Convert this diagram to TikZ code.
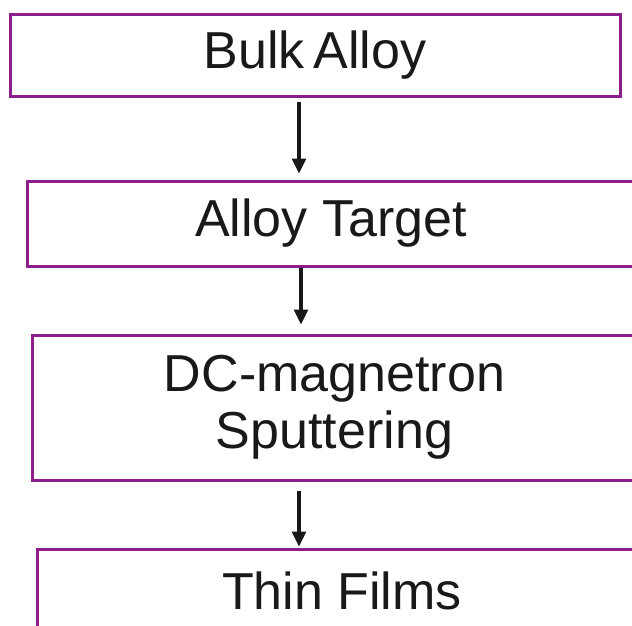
\documentclass[tikz,border=0pt]{standalone}
\usepackage{fontspec}
\setmainfont{Liberation Sans}
\usepackage{tikz}
\definecolor{boxpurple}{RGB}{140,30,140}
\definecolor{inkgray}{RGB}{25,25,25}
\usetikzlibrary{arrows.meta}
\usetikzlibrary{positioning}

\tikzset{
    stagebox/.style = {draw = boxpurple, line width = 3pt, fill = white, rectangle,
        inner sep = 0pt, align = center, text = inkgray,
        font = \fontsize{52}{57}\selectfont},
    flow/.style = {draw = inkgray, line width = 3.2pt, -{Triangle[width = 14pt, length = 15pt]}}
}

\begin{document}
\begin{tikzpicture}[x = 1pt, y = -1pt]
        \useasboundingbox (0,0) rectangle (632,625);
        \node[stagebox, minimum width = 610pt, minimum height = 82pt] (bulk) at (315,55) {Bulk\,Alloy};
        \node[stagebox, minimum width = 608pt, minimum height = 85pt] (target) at (331,223.5) {Alloy Target};
        \node[stagebox, minimum width = 605pt, minimum height = 145pt] (sputter) at (334.5,407.5) {DC-magnetron\\Sputtering};
        \node[stagebox, minimum width = 610pt, minimum height = 84pt] (films) at (342,591) {Thin Films};
        \coordinate (lane) at (299,0);
        \coordinate (lanetwo) at (301,0);
        \draw[flow, shorten <= 4pt, shorten >= 6pt] (bulk.south -| lane) -- (target.north -| lane);
        \draw[flow, shorten >= 9pt] (target.south -| lanetwo) -- (sputter.north -| lanetwo);
        \draw[flow, shorten <= 9pt, shorten >= 1pt] (sputter.south -| lane) -- (films.north -| lane);
    \end{tikzpicture}
\end{document}
